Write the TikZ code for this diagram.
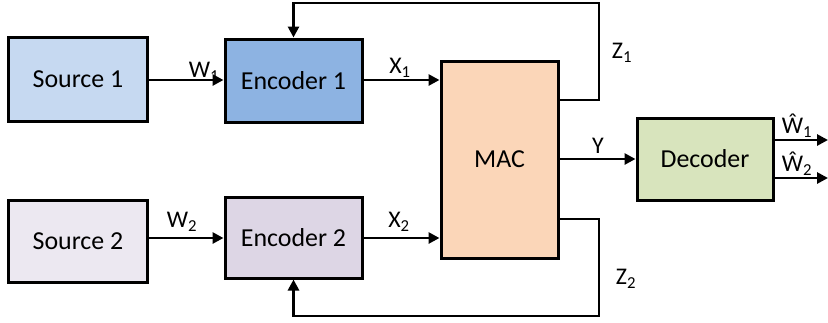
\documentclass[tikz,border=0pt]{standalone}
\usepackage{fontspec}
\setmainfont{Carlito}
\usetikzlibrary{arrows.meta}
\begin{document}
\begin{tikzpicture}[x=1bp,y=-1bp,
  blk/.style={draw=black,line width=3bp,inner sep=0pt,font=\fontsize{26}{30}\selectfont},
  conn/.style={line width=2.8bp,-{Triangle[length=11bp,width=11bp]}},
  lbl/.style={font=\fontsize{24}{28}\selectfont,inner sep=0pt}]
\useasboundingbox (0,0) rectangle (828,322);
\definecolor{src1}{HTML}{C6D9F1}
\definecolor{enc1}{HTML}{8DB3E2}
\definecolor{src2}{HTML}{ECE8F1}
\definecolor{enc2}{HTML}{DDD6E5}
\definecolor{macc}{HTML}{FBD6B8}
\definecolor{decc}{HTML}{D8E4BD}
\node[blk,fill=src1,minimum width=138bp,minimum height=84bp] (s1) at (78,79) {Source 1};
\node[blk,fill=enc1,minimum width=137bp,minimum height=83bp] (e1) at (293.5,80.5) {Encoder 1};
\node[blk,fill=src2,minimum width=138bp,minimum height=82bp] (s2) at (78,241) {Source 2};
\node[blk,fill=enc2,minimum width=137bp,minimum height=81bp] (e2) at (293.5,237.5) {Encoder 2};
\node[blk,fill=macc,minimum width=117bp,minimum height=197bp] (mac) at (499.5,159.5) {MAC};
\node[blk,fill=decc,minimum width=136bp,minimum height=82bp] (dec) at (705,159) {Decoder};
\coordinate (z1c) at (599,3);
\coordinate (z2c) at (599,316);
\coordinate (o1) at (828,140);
\coordinate (o2) at (828,178);
\draw[conn] (s1.east |- 0,80) -- (e1.west |- 0,80);
\draw[conn] (e1.east |- 0,80) -- (mac.west |- 0,80);
\draw[conn] (s2.east |- 0,238) -- (e2.west |- 0,238);
\draw[conn] (e2.east |- 0,238) -- (mac.west |- 0,238);
\draw[conn] (mac.east |- 0,159) -- (dec.west |- 0,159);
\draw[conn] (dec.east |- 0,140) -- (o1);
\draw[conn] (dec.east |- 0,178) -- (o2);
\draw[conn] (mac.east |- 0,100) -- (z1c |- 0,100) -- (z1c) -- (e1.north |- z1c) -- (e1.north);
\draw[conn] (mac.east |- 0,219) -- (z2c |- 0,219) -- (z2c) -- (e2.south |- z2c) -- (e2.south);
\node[lbl] (lw1) at (204,72) {W\textsubscript{1}};
\node[lbl] (lx1) at (400,68) {X\textsubscript{1}};
\node[lbl] (lz1) at (622,53) {Z\textsubscript{1}};
\node[lbl] (ly) at (598,146) {Y};
\node[lbl] (lw2) at (182,222) {W\textsubscript{2}};
\node[lbl] (lx2) at (399,222) {X\textsubscript{2}};
\node[lbl] (lz2) at (626,279) {Z\textsubscript{2}};
\node[lbl] (lh1) at (797,126) {Ŵ\textsubscript{1}};
\node[lbl] (lh2) at (797,164) {Ŵ\textsubscript{2}};
\end{tikzpicture}
\end{document}
